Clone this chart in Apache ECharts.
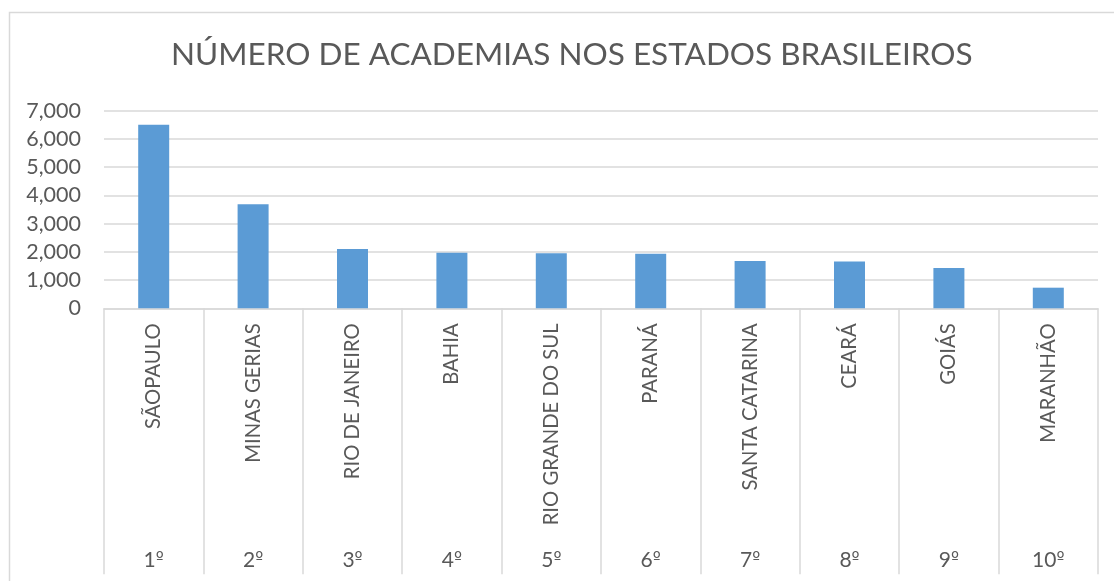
<!DOCTYPE html>
<html>
<head>
<meta charset="utf-8">
<script src="https://cdn.jsdelivr.net/npm/echarts@6/dist/echarts.min.js"></script>
<style>
    html, body { margin: 0; padding: 0; background: #fff; }
    #main { width: 1114px; height: 581px; }
</style>
</head>
<body>
<div id="main"></div>
<script>
// data
const states = ['SÃOPAULO', 'MINAS GERIAS', 'RIO DE JANEIRO', 'BAHIA', 'RIO GRANDE DO SUL',
    'PARANÁ', 'SANTA CATARINA', 'CEARÁ', 'GOIÁS', 'MARANHÃO'];
const ranks = ['1º', '2º', '3º', '4º', '5º', '6º', '7º', '8º', '9º', '10º'];
const academias = [6500, 3690, 2100, 1970, 1950, 1930, 1680, 1660, 1430, 730];

const FONT = 'Lato, "Open Sans", sans-serif';
const GREY = '#595959';
const LINE = '#d9d9d9';

const chart = echarts.init(document.getElementById('main'), null, { renderer: 'canvas' });

const option = {
    animation: false,
    textStyle: { fontFamily: FONT },
    title: {
        text: 'NÚMERO DE ACADEMIAS NOS ESTADOS BRASILEIROS',
        left: 166,
        top: 34,
        textStyle: { fontFamily: FONT, fontWeight: 'normal', fontSize: 31.5, color: GREY }
    },
    graphic: [{
        // outer chart frame (cut off at right/bottom in the original)
        type: 'rect',
        shape: { x: 9.5, y: 12.5, width: 1200, height: 1000 },
        style: { fill: 'none', stroke: LINE, lineWidth: 1.5 },
        silent: true
    }],
    grid: { left: 104, right: 16, top: 110.7, bottom: 272.7 },
    xAxis: [{
        type: 'category',
        data: states,
        position: 'bottom',
        axisLine: { lineStyle: { color: LINE, width: 1.5 } },
        axisTick: { show: true, length: 266, lineStyle: { color: LINE, width: 1.5 } },
        axisLabel: {
            rotate: 90, margin: 15, interval: 0,
            fontFamily: FONT, fontSize: 20.3, color: GREY
        }
    }, {
        type: 'category',
        data: ranks,
        position: 'bottom',
        axisLine: { show: false },
        axisTick: { show: false },
        axisLabel: {
            margin: 241, interval: 0,
            fontFamily: FONT, fontSize: 21, color: GREY,
            // Excel's ordinal sign is underlined; DejaVu draws it that way
            formatter: v => '{n|' + v.slice(0, -1) + '}{o|º}',
            rich: {
                n: { fontFamily: FONT, fontSize: 21, color: GREY },
                o: { fontFamily: '"DejaVu Sans"', fontSize: 17, color: GREY }
            }
        }
    }],
    yAxis: {
        type: 'value',
        min: 0,
        max: 7000,
        interval: 1000,
        axisLine: { show: false },
        axisTick: { show: false },
        splitLine: { lineStyle: { color: LINE, width: 1.5 } },
        axisLabel: {
            margin: 23,
            fontFamily: FONT, fontSize: 21.5, color: GREY,
            formatter: v => v.toLocaleString('en-US')
        }
    },
    series: [{
        type: 'bar',
        data: academias,
        barWidth: 31,
        itemStyle: { color: '#5b9bd5' }
    }]
};

chart.setOption(option);
</script>
</body>
</html>
